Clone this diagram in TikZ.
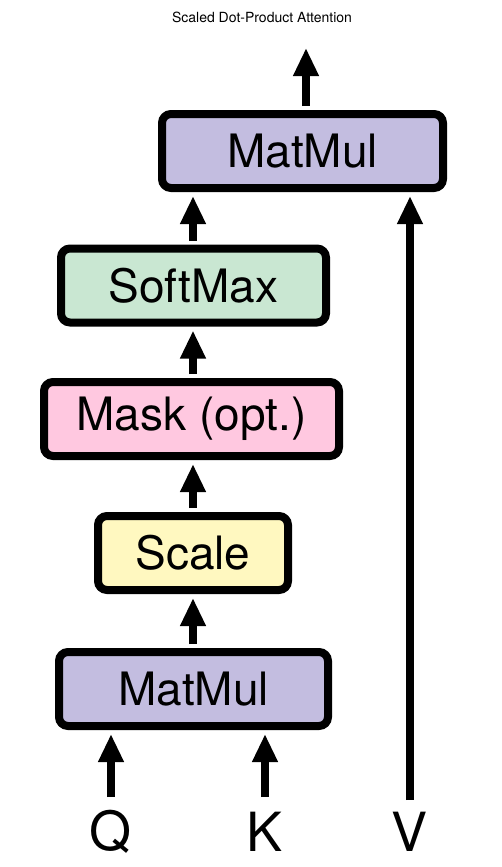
\documentclass[tikz,border=0pt]{standalone}
\usepackage{fontspec}
\setmainfont{TeX Gyre Heros}
\usetikzlibrary{arrows.meta}
\definecolor{lav}{HTML}{C3BDE0}
\definecolor{mint}{HTML}{C9E7D2}
\definecolor{pinkb}{HTML}{FFC8E0}
\definecolor{yel}{HTML}{FFF8C0}
\tikzset{
  box/.style={draw=black, line width=8pt, rounded corners=9pt, minimum height=74pt,
    inner sep=0pt, font=\fontsize{46}{50}\selectfont},
  arr/.style={line width=8pt, -{Triangle[width=24pt,length=28pt]}, shorten <=4pt, shorten >=4pt},
  lbl/.style={font=\fontsize{54}{58}\selectfont, inner sep=0pt}
}
\begin{document}
\begin{tikzpicture}[x=1pt,y=-1pt]
\useasboundingbox (0,0) rectangle (502,867);
\node[font=\fontsize{14}{16}\selectfont] (title) at (262,17) {Scaled Dot-Product Attention};
\node[box, fill=lav, minimum width=281pt] (mm2) at (302.5,151) {MatMul};
\node[box, fill=mint, minimum width=265pt] (soft) at (193.5,285.5) {SoftMax};
\node[box, fill=pinkb, minimum width=295pt] (mask) at (191.5,419) {Mask (opt.)};
\node[box, fill=yel, minimum width=190pt] (scale) at (193,553) {Scale};
\node[box, fill=lav, minimum width=269pt] (mm1) at (193.5,689) {MatMul};
\node[lbl] (q) at (111,832) {Q};
\node[lbl] (k) at (265,832) {K};
\node[lbl] (v) at (410,832) {V};
\coordinate (out) at (306,48);
\coordinate (qs) at (111,797);
\coordinate (ks) at (265,797);
\coordinate (vs) at (410,800);
\draw[arr, shorten >=0pt] (mm2.north -| out) -- (out);
\draw[arr, shorten <=0pt] (qs) -- (qs |- mm1.south);
\draw[arr, shorten <=0pt] (ks) -- (ks |- mm1.south);
\draw[arr, shorten <=0pt] (vs) -- (vs |- mm2.south);
\draw[arr] (mm1.north -| 193,0) -- (scale.south -| 193,0);
\draw[arr] (scale.north -| 193,0) -- (mask.south -| 193,0);
\draw[arr] (mask.north -| 193,0) -- (soft.south -| 193,0);
\draw[arr] (soft.north -| 193,0) -- (mm2.south -| 193,0);
\end{tikzpicture}
\end{document}
